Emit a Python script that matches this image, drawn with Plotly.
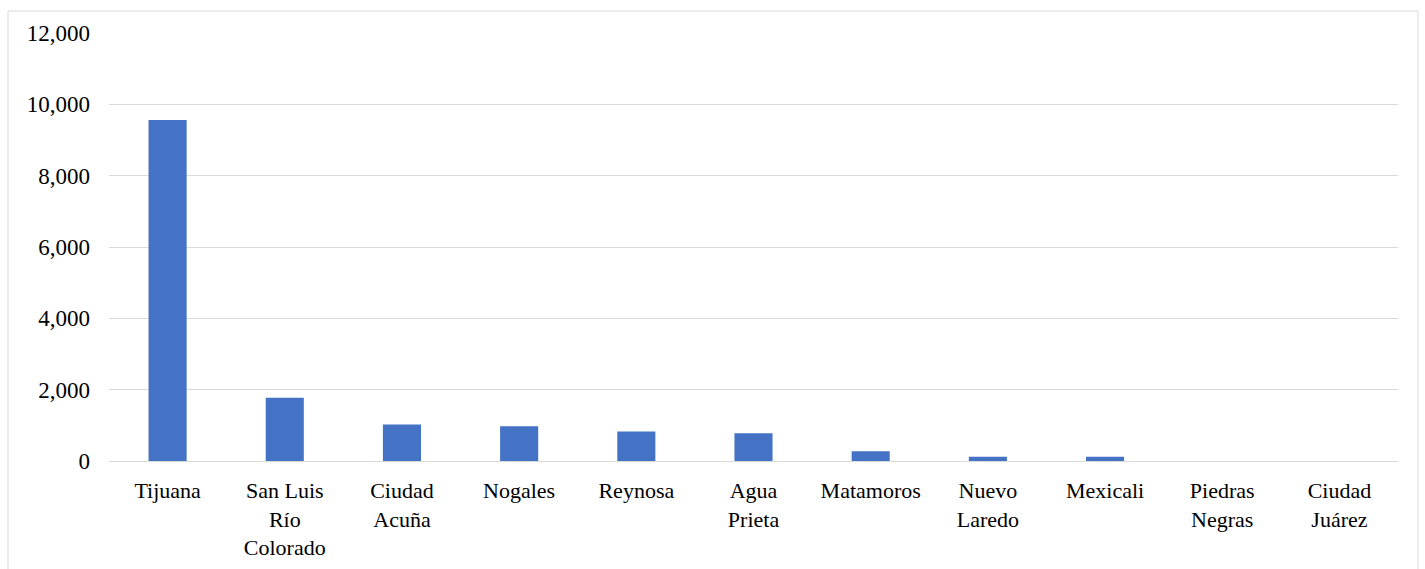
import plotly.graph_objects as go

categories = ["Tijuana", "San Luis<br>Río<br>Colorado", "Ciudad<br>Acuña", "Nogales", "Reynosa",
              "Agua<br>Prieta", "Matamoros", "Nuevo<br>Laredo", "Mexicali", "Piedras<br>Negras",
              "Ciudad<br>Juárez"]
values = [9560, 1770, 1025, 975, 826, 779, 274, 118, 118, 0, 0]
y_ticks = [0, 2000, 4000, 6000, 8000, 10000, 12000]
y_tick_labels = ["0", "2,000", "4,000", "6,000", "8,000", "10,000", "12,000"]

W, H = 1425, 569
L, R, T, B = 109, 27, 33, 107.5
pw, ph = W - L - R, H - T - B

fig = go.Figure(go.Bar(x=categories, y=values, marker=dict(color="#4472C4", line=dict(width=0))))

fig.update_layout(
    width=W, height=H,
    margin=dict(l=L, r=R, t=T, b=B, pad=0, autoexpand=False),
    paper_bgcolor="white", plot_bgcolor="white",
    bargap=0.675,
    showlegend=False,
    font=dict(family="Liberation Serif", size=22, color="black"),
    xaxis=dict(showgrid=False, showline=False, ticks="", tickfont=dict(size=22),
               ticklabelstandoff=14, automargin=False),
    yaxis=dict(range=[0, 12000], tickvals=y_ticks, ticktext=y_tick_labels,
               showgrid=True, gridcolor="#d9d9d9", gridwidth=1,
               zeroline=True, zerolinecolor="#d9d9d9", zerolinewidth=1,
               showline=False, ticks="", tickfont=dict(size=23),
               ticklabelstandoff=18, automargin=False),
    shapes=[dict(type="rect", xref="paper", yref="paper",
                 x0=(8 - L) / pw, x1=(1418 - L) / pw,
                 y0=-0.4, y1=(H - B - 11) / ph,
                 line=dict(color="#d9d9d9", width=1), fillcolor="rgba(0,0,0,0)", layer="below")],
)

fig.write_html("out.html")
